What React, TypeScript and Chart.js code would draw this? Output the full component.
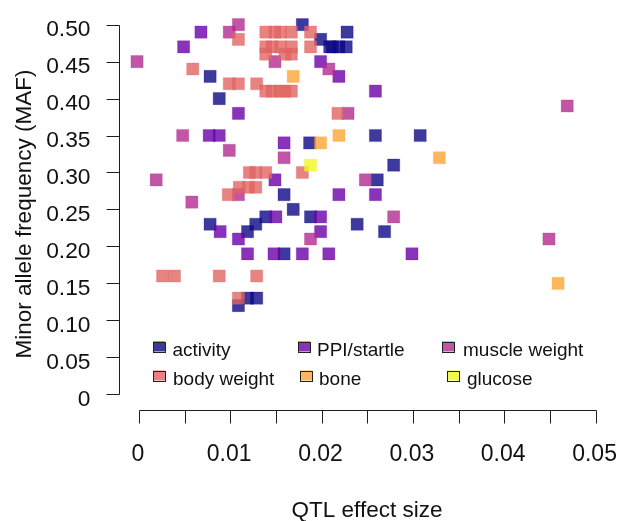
import { useEffect, useRef } from "react";
import { Chart, registerables } from "chart.js";

Chart.register(...registerables);

// QTL effect size (x) vs minor allele frequency (y), one list per phenotype class
const activity: [number, number][] = [
  [0.0179, 0.5], [0.0228, 0.49], [0.0199, 0.48],
  [0.0209, 0.47], [0.0212, 0.47], [0.0219, 0.47], [0.0227, 0.47],
  [0.0078, 0.43], [0.0088, 0.4], [0.0187, 0.34], [0.0259, 0.35], [0.0308, 0.35],
  [0.0279, 0.31], [0.0261, 0.29], [0.0159, 0.27], [0.0169, 0.25],
  [0.0139, 0.24], [0.0188, 0.24], [0.0078, 0.23], [0.0128, 0.23], [0.0239, 0.23],
  [0.0119, 0.22], [0.0269, 0.22], [0.0159, 0.19],
  [0.0119, 0.13], [0.0129, 0.13], [0.0109, 0.12],
];

const ppiStartle: [number, number][] = [
  [0.0068, 0.49], [0.0049, 0.47], [0.0199, 0.45], [0.0219, 0.43], [0.0259, 0.41],
  [0.0109, 0.38], [0.0077, 0.35], [0.0088, 0.35], [0.0159, 0.34], [0.0149, 0.29],
  [0.0219, 0.27], [0.0259, 0.27], [0.015, 0.24], [0.0199, 0.24], [0.0089, 0.22],
  [0.0199, 0.22], [0.0109, 0.21], [0.0119, 0.19], [0.0148, 0.19], [0.0179, 0.19],
  [0.0208, 0.19], [0.0299, 0.19],
];

const muscleWeight: [number, number][] = [
  [0.0109, 0.5], [0.0099, 0.49], [-0.0002, 0.45], [0.0149, 0.45], [0.0208, 0.44],
  [0.0229, 0.38], [0.0469, 0.39], [0.0048, 0.35], [0.0099, 0.33], [0.0159, 0.32],
  [0.0019, 0.29], [0.0248, 0.29], [0.0109, 0.27], [0.0058, 0.26], [0.0279, 0.24],
  [0.0188, 0.21], [0.0449, 0.21],
];

const bodyWeight: [number, number][] = [
  [0.0139, 0.49], [0.0149, 0.49], [0.0155, 0.49], [0.0167, 0.49], [0.0188, 0.49],
  [0.0109, 0.48],
  [0.0139, 0.47], [0.0146, 0.47], [0.0155, 0.47], [0.0167, 0.47], [0.0188, 0.47],
  [0.0139, 0.46], [0.016, 0.46], [0.0167, 0.46],
  [0.0059, 0.44], [0.0099, 0.42], [0.0109, 0.42], [0.0129, 0.42],
  [0.0139, 0.41], [0.0146, 0.41], [0.0154, 0.41], [0.016, 0.41], [0.0167, 0.41],
  [0.0218, 0.38], [0.0121, 0.3], [0.0128, 0.3], [0.0139, 0.3], [0.0179, 0.3],
  [0.011, 0.28], [0.012, 0.28], [0.0128, 0.28], [0.0098, 0.27],
  [0.0026, 0.16], [0.0039, 0.16], [0.0088, 0.16], [0.0129, 0.16], [0.0109, 0.13],
];

const bone: [number, number][] = [
  [0.0169, 0.43], [0.0219, 0.35], [0.0199, 0.34], [0.0329, 0.32], [0.0459, 0.15],
];

const glucose: [number, number][] = [[0.0188, 0.31]];

const seriesNames = ["activity", "PPI/startle", "muscle weight", "body weight", "bone", "glucose"];
const seriesData = [activity, ppiStartle, muscleWeight, bodyWeight, bone, glucose];
// plasma palette
const seriesRgb = ["13,8,135", "106,0,168", "177,42,144", "225,100,98", "252,166,54", "240,249,33"];

const xTickValues = [0, 0.005, 0.01, 0.015, 0.02, 0.025, 0.03, 0.035, 0.04, 0.045, 0.05];
const xLabelValues = [0, 0.01, 0.02, 0.03, 0.04, 0.05];
const xLabelTexts = ["0", "0.01", "0.02", "0.03", "0.04", "0.05"];
const yTickValues = [0, 0.05, 0.1, 0.15, 0.2, 0.25, 0.3, 0.35, 0.4, 0.45, 0.5];
const yTickTexts = ["0", "0.05", "0.10", "0.15", "0.20", "0.25", "0.30", "0.35", "0.40", "0.45", "0.50"];

const xTitle = "QTL effect size";
const yTitle = "Minor allele frequency (MAF)";

const FONT = "'Liberation Sans', Arial, sans-serif";

// legend slots: [box left, text left, text baseline] for each series, in order
const legendSlots: [number, number, number][] = [
  [153, 172.5, 356],
  [298, 317, 356],
  [442, 463, 356],
  [153, 173, 385],
  [300, 319, 385],
  [447, 467, 385],
];

const baseAxesPlugin = {
  id: "baseAxes",
  afterDraw(chart: any) {
    const ctx: CanvasRenderingContext2D = chart.ctx;
    const xs = chart.scales.x;
    const ys = chart.scales.y;
    const area = chart.chartArea;
    ctx.save();
    ctx.strokeStyle = "#1e1e1e";
    ctx.fillStyle = "#111";
    ctx.lineWidth = 1;

    // left axis
    const ax = Math.round(area.left) + 0.5;
    const yTop = Math.round(ys.getPixelForValue(yTickValues[yTickValues.length - 1])) + 0.5;
    const yBot = Math.round(ys.getPixelForValue(yTickValues[0])) + 0.5;
    ctx.beginPath();
    ctx.moveTo(ax, yTop);
    ctx.lineTo(ax, yBot);
    yTickValues.forEach((v) => {
      const py = Math.round(ys.getPixelForValue(v)) + 0.5;
      ctx.moveTo(ax - 13, py);
      ctx.lineTo(ax, py);
    });
    ctx.stroke();
    ctx.font = `22.8px ${FONT}`;
    ctx.textAlign = "right";
    ctx.textBaseline = "alphabetic";
    yTickValues.forEach((v, i) => {
      ctx.fillText(yTickTexts[i], ax - 29, ys.getPixelForValue(v) + 11.5);
    });

    // bottom axis
    const by = Math.round(area.bottom) + 0.5;
    const xL = Math.round(xs.getPixelForValue(xTickValues[0])) + 0.5;
    const xR = Math.round(xs.getPixelForValue(xTickValues[xTickValues.length - 1])) + 0.5;
    ctx.beginPath();
    ctx.moveTo(xL, by);
    ctx.lineTo(xR, by);
    xTickValues.forEach((v) => {
      const px = Math.round(xs.getPixelForValue(v)) + 0.5;
      ctx.moveTo(px, by);
      ctx.lineTo(px, by + 13);
    });
    ctx.stroke();
    ctx.textAlign = "center";
    ctx.font = `23px ${FONT}`;
    xLabelValues.forEach((v, i) => {
      ctx.fillText(xLabelTexts[i], xs.getPixelForValue(v) - 1, by + 50.5);
    });

    // titles
    ctx.font = `22.5px ${FONT}`;
    ctx.fillText(xTitle, (xL + xR) / 2 - 1, by + 106);
    ctx.save();
    ctx.translate(31, (yTop + yBot) / 2 + 4);
    ctx.rotate(-Math.PI / 2);
    ctx.fillText(yTitle, 0, 0);
    ctx.restore();

    // legend
    ctx.font = `19px ${FONT}`;
    ctx.textAlign = "left";
    seriesNames.forEach((name, i) => {
      const [bx, tx, base] = legendSlots[i];
      const top = base - 14.5;
      ctx.fillStyle = `rgba(${seriesRgb[i]},0.8)`;
      ctx.fillRect(bx, top, 12, 10);
      ctx.strokeStyle = "#222";
      ctx.strokeRect(bx + 0.5, Math.round(top) + 0.5, 12, 10);
      ctx.fillStyle = "#111";
      ctx.fillText(name, tx, base);
    });
    ctx.restore();
  },
};

// pixel scale: 9200 px per unit on x, 751.4 px per unit on y
const X_MIN = -20 / 9200;
const X_MAX = X_MIN + 499 / 9200;
const Y_MIN = -16 / 751.4;
const Y_MAX = Y_MIN + 407 / 751.4;

export default function App() {
  const canvasRef = useRef<HTMLCanvasElement | null>(null);

  useEffect(() => {
    if (!canvasRef.current) return;
    const chart = new Chart(canvasRef.current, {
      type: "scatter",
      data: {
        datasets: seriesNames.map((name, i) => ({
          label: name,
          data: seriesData[i].map(([x, y]) => ({ x, y })),
          pointStyle: "rect",
          pointRadius: 8.6,
          pointHoverRadius: 8.6,
          backgroundColor: `rgba(${seriesRgb[i]},0.8)`,
          borderColor: `rgba(${seriesRgb[i]},0.25)`,
          borderWidth: 1,
          order: 6 - i,
        })),
      },
      options: {
        animation: false,
        responsive: false,
        devicePixelRatio: 1,
        layout: { padding: { left: 119, right: 6, top: 3, bottom: 111 } },
        scales: {
          x: { type: "linear", min: X_MIN, max: X_MAX, display: false },
          y: { type: "linear", min: Y_MIN, max: Y_MAX, display: false },
        },
        plugins: {
          legend: { display: false },
          tooltip: { enabled: false },
        },
        events: [],
      },
      plugins: [baseAxesPlugin],
    });
    return () => chart.destroy();
  }, []);

  return (
    <div style={{ position: "fixed", left: 0, top: 0, width: 624, height: 521, background: "#fff" }}>
      <canvas ref={canvasRef} width={624} height={521} style={{ display: "block" }} />
    </div>
  );
}
